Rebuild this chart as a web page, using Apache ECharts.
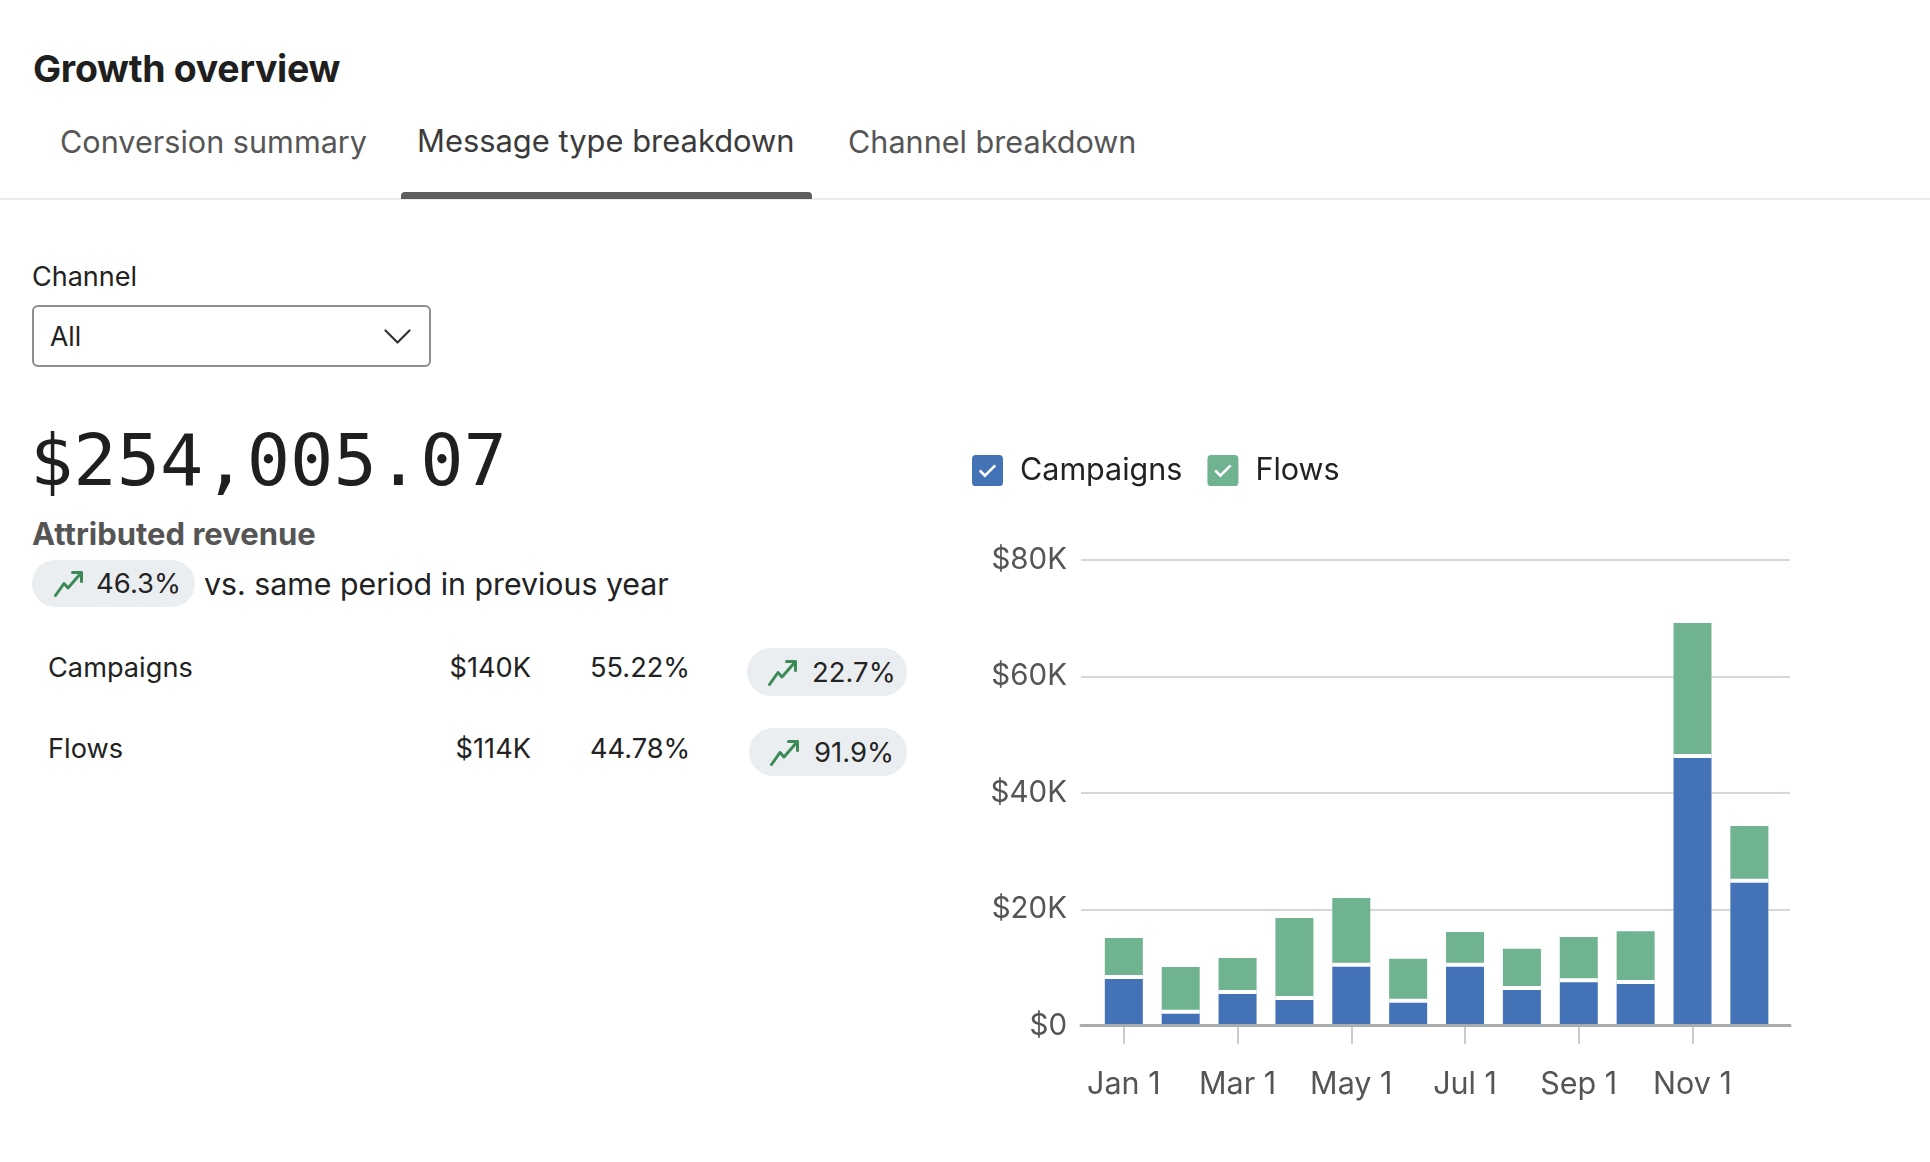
<!DOCTYPE html>
<html>
<head>
<meta charset="utf-8">
<script src="https://cdn.jsdelivr.net/npm/echarts@6/dist/echarts.min.js"></script>
<style>
html,body{margin:0;padding:0;background:#fff;}
body{width:1930px;height:1162px;position:relative;overflow:hidden;font-family:Inter,'Noto Sans',sans-serif;color:#222;}
.t{position:absolute;white-space:nowrap;}
.title{left:33px;top:49.5px;font-size:37.5px;line-height:37.5px;font-weight:700;color:#1f1f1f;letter-spacing:-0.3px;}
.tab{top:126.5px;font-size:30.6px;line-height:30.6px;color:#565656;}
.tab.active{color:#3b3b3b;font-size:30.9px;}
.divider{position:absolute;left:0;top:198px;width:1930px;height:2px;background:#e8ecef;}
.underline{position:absolute;left:401px;top:192px;width:411px;height:7px;background:#5e5e5e;border-radius:4px 4px 0 0;}
.lbl{left:32px;top:263px;font-size:27px;line-height:27px;color:#222;}
.select{position:absolute;left:32px;top:305px;width:399px;height:62px;box-sizing:border-box;border:2px solid #8e8e8e;border-radius:6px;}
.selval{left:50px;top:323px;font-size:26.5px;line-height:26.5px;color:#222;}
.chev{position:absolute;left:384px;top:329px;width:27px;height:16px;}
.big{left:30px;top:424px;font-family:'DejaVu Sans Mono',monospace;font-size:72px;line-height:72px;color:#1f1f1f;}
.attr{left:32px;top:517.5px;font-size:31px;line-height:31px;font-weight:700;color:#555;}
.pill{position:absolute;background:#ebeef0;border-radius:24px;}
.icon{position:absolute;width:32px;height:29px;}
.pt{font-size:27.5px;line-height:27.5px;color:#242424;}
.vs{left:204px;top:569px;font-size:30.3px;line-height:30.3px;color:#222;}
.row{font-size:27.2px;line-height:27.2px;color:#222;}
.num{width:200px;text-align:right;}
#chart{position:absolute;left:940px;top:420px;width:990px;height:742px;}
</style>
</head>
<body>
<div class="t title">Growth overview</div>
<div class="t tab" style="left:60px">Conversion summary</div>
<div class="t tab active" style="left:417px;top:126.4px">Message type breakdown</div>
<div class="t tab" style="left:848px">Channel breakdown</div>
<div class="divider"></div>
<div class="underline"></div>

<div class="t lbl">Channel</div>
<div class="select"></div>
<div class="t selval">All</div>
<svg class="chev" viewBox="0 0 27 16"><polyline points="1.5,1.5 13.5,13.5 25.5,1.5" fill="none" stroke="#333" stroke-width="2.2" stroke-linecap="round" stroke-linejoin="round"/></svg>

<div class="t big">$254,005.07</div>
<div class="t attr">Attributed revenue</div>

<div class="pill" style="left:32px;top:560px;width:163px;height:47px;"></div>
<svg class="icon" style="left:53px;top:569px" viewBox="0 0 32 29"><path d="M2.5 26.5 L11 14.5 L15 19 L28.5 3.5 M19.5 3.5 H28.5 V12.5" fill="none" stroke="#3c8a57" stroke-width="3" stroke-linecap="round" stroke-linejoin="round"/></svg>
<div class="t pt" style="left:96px;top:570px">46.3%</div>
<div class="t vs">vs. same period in previous year</div>

<div class="t row" style="left:48px;top:653.5px">Campaigns</div>
<div class="t row num" style="left:331px;top:653.5px">$140K</div>
<div class="t row" style="left:590px;top:653.5px">55.22%</div>
<div class="pill" style="left:747px;top:648px;width:160px;height:48px;"></div>
<svg class="icon" style="left:767px;top:658px" viewBox="0 0 32 29"><path d="M2.5 26.5 L11 14.5 L15 19 L28.5 3.5 M19.5 3.5 H28.5 V12.5" fill="none" stroke="#3c8a57" stroke-width="3" stroke-linecap="round" stroke-linejoin="round"/></svg>
<div class="t pt" style="left:812px;top:658.5px">22.7%</div>

<div class="t row" style="left:48px;top:734.5px">Flows</div>
<div class="t row num" style="left:331px;top:734.5px">$114K</div>
<div class="t row" style="left:590px;top:734.5px">44.78%</div>
<div class="pill" style="left:749px;top:728px;width:158px;height:48px;"></div>
<svg class="icon" style="left:769px;top:738px" viewBox="0 0 32 29"><path d="M2.5 26.5 L11 14.5 L15 19 L28.5 3.5 M19.5 3.5 H28.5 V12.5" fill="none" stroke="#3c8a57" stroke-width="3" stroke-linecap="round" stroke-linejoin="round"/></svg>
<div class="t pt" style="left:814px;top:738.5px">91.9%</div>

<div id="chart"></div>
<script>
// ---- data ----
const months = ['Jan 1','Feb 1','Mar 1','Apr 1','May 1','Jun 1','Jul 1','Aug 1','Sep 1','Oct 1','Nov 1','Dec 1'];
const campaigns = [8020, 2060, 5440, 4410, 10140, 3950, 10140, 6130, 7450, 7160, 46000, 24570];
const flows = [7040, 8020, 6190, 14090, 11800, 7560, 5950, 7100, 7780, 9050, 23190, 9740];
const yTicks = [0, 20000, 40000, 60000, 80000];
const seriesNames = ['Campaigns', 'Flows'];
const colors = ['#4472b6', '#6fb391'];

const CHECK_ICON = 'path://M3,0 L21,0 Q24,0 24,3 L24,21 Q24,24 21,24 L3,24 Q0,24 0,21 L0,3 Q0,0 3,0 Z ' +
  'M5.29,12.71 L10,17.41 L18.71,8.71 L17.29,7.29 L10,14.59 L6.71,11.29 Z';

const chart = echarts.init(document.getElementById('chart'), null, {renderer: 'canvas'});
const yMax = yTicks[yTicks.length - 1];
const yStep = yTicks[1] - yTicks[0];
const fmt = v => v === 0 ? '$0' : '$' + (v / 1000) + 'K';

chart.setOption({
  animation: false,
  textStyle: {fontFamily: 'Inter'},
  color: colors,
  legend: {
    left: 27, top: 30,
    itemWidth: 31, itemHeight: 31, itemGap: 25,
    icon: CHECK_ICON,
    selectedMode: false,
    data: seriesNames,
    textStyle: {fontSize: 30.5, color: '#222', fontFamily: 'Inter', padding: [0, 0, 0, 12]}
  },
  grid: [
    {left: 141, right: 140, top: 140, bottom: 136.3},
    {left: 155.4, right: 152.2, top: 140, bottom: 136.3}
  ],
  xAxis: [
    {gridIndex: 0, type: 'value', min: 0, max: 1, z: 10,
      axisLine: {show: true, lineStyle: {color: '#a9acad', width: 3}},
      axisTick: {show: false}, axisLabel: {show: false}, splitLine: {show: false}},
    {gridIndex: 1, type: 'category', data: months,
      axisLine: {show: false},
      axisTick: {show: true, alignWithLabel: true, interval: 1, length: 18, lineStyle: {color: '#c6cbcf', width: 2}},
      axisLabel: {interval: 1, margin: 44, fontSize: 30.5, color: '#555', fontFamily: 'Inter'}}
  ],
  yAxis: [
    {gridIndex: 0, type: 'value', min: 0, max: yMax, interval: yStep,
      axisLine: {show: false}, axisTick: {show: false},
      axisLabel: {formatter: fmt, margin: 14, fontSize: 29.5, color: '#555', fontFamily: 'Inter', padding: [4, 0, 0, 0]},
      splitLine: {lineStyle: {color: '#d4d8dc', width: 2}}},
    {gridIndex: 1, type: 'value', min: 0, max: yMax, show: false, splitLine: {show: false}}
  ],
  series: [
    {name: seriesNames[0], type: 'bar', stack: 'rev', xAxisIndex: 1, yAxisIndex: 1,
      data: campaigns, barWidth: 38, z: 3,
      itemStyle: {color: colors[0], shadowColor: '#ffffff', shadowOffsetY: -4, shadowBlur: 0}},
    {name: seriesNames[1], type: 'bar', stack: 'rev', xAxisIndex: 1, yAxisIndex: 1,
      data: flows, barWidth: 38, z: 2,
      itemStyle: {color: colors[1]}}
  ]
});
</script>
</body>
</html>
